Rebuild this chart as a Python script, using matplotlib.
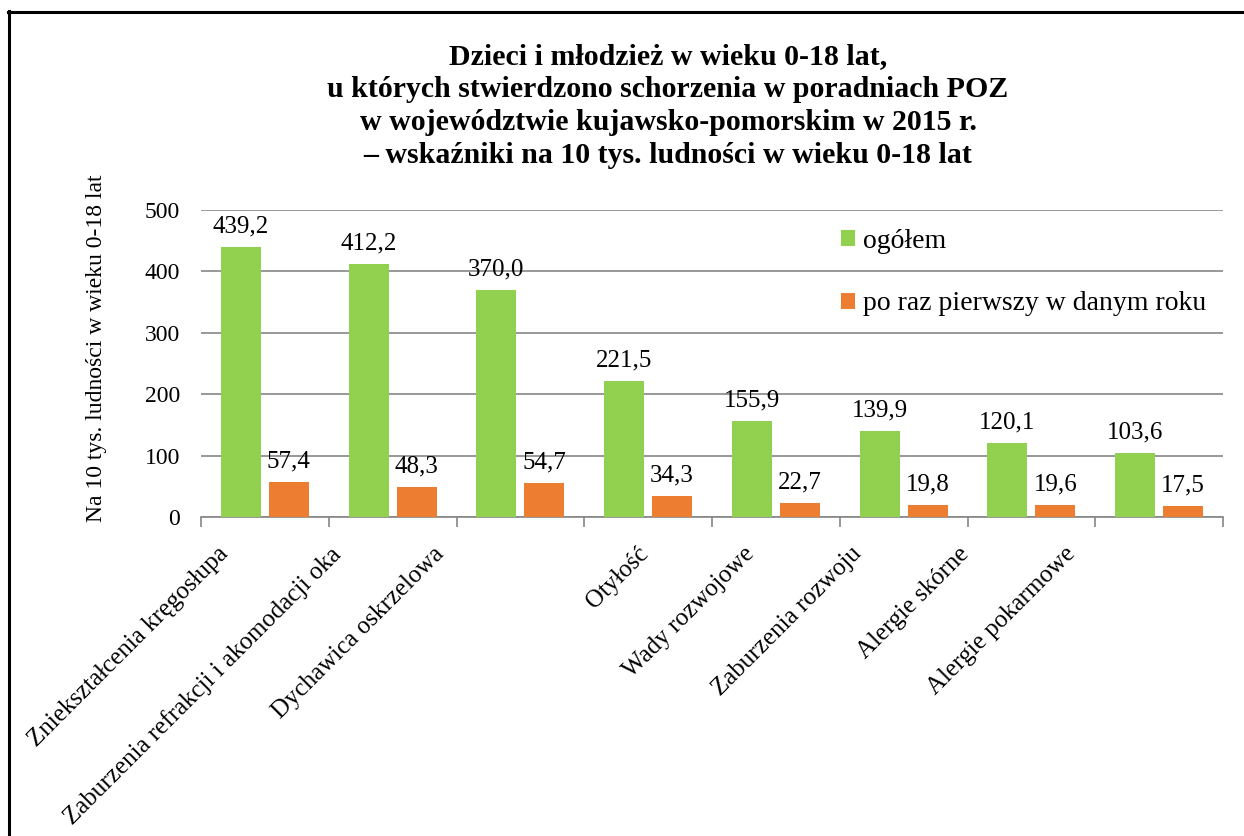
import matplotlib.pyplot as plt
from matplotlib.lines import Line2D
from matplotlib.transforms import ScaledTranslation
import numpy as np

plt.rcParams['font.family'] = ['Liberation Serif', 'DejaVu Serif']

categories = ['Zniekształcenia kręgosłupa', 'Zaburzenia refrakcji i akomodacji oka',
              'Dychawica oskrzelowa', 'Otyłość', 'Wady rozwojowe',
              'Zaburzenia rozwoju', 'Alergie skórne', 'Alergie pokarmowe']
ogolem = [439.2, 412.2, 370.0, 221.5, 155.9, 139.9, 120.1, 103.6]
pierwszy = [57.4, 48.3, 54.7, 34.3, 22.7, 19.8, 19.6, 17.5]
series_names = ['ogółem', 'po raz pierwszy w danym roku']
y_ticks = [0, 100, 200, 300, 400, 500]

green = '#92D050'
orange = '#ED7D31'
grid_col = '#868686'

fig = plt.figure(figsize=(12.44, 8.36), dpi=100)
ax = fig.add_axes([201 / 1244, 1 - 517 / 836, 1022 / 1244, 307 / 836])

x = np.arange(len(categories))
w = 0.313
b1 = ax.bar(x - 0.188, ogolem, w, color=green, label=series_names[0], zorder=3)
b2 = ax.bar(x + 0.188, pierwszy, w, color=orange, label=series_names[1], zorder=3)

def fmt(v):
    return ('%.1f' % v).replace('.', ',')

for bars, vals in ((b1, ogolem), (b2, pierwszy)):
    for r, v in zip(bars, vals):
        ax.annotate(fmt(v), (r.get_x() + r.get_width() / 2, v),
                    xytext=(0, 7), textcoords='offset points',
                    ha='center', va='bottom', fontsize=18, zorder=4)

ax.set_xlim(-0.5, len(categories) - 0.5)
ax.set_ylim(0, 500)
ax.set_yticks(y_ticks)
ax.set_yticklabels([str(t) for t in y_ticks], fontsize=17)
ax.tick_params(axis='y', length=0, pad=15)
ax.yaxis.grid(True, color=grid_col, linewidth=1.2, zorder=0)

# category boundaries as tick marks
ax.set_xticks(np.arange(len(categories) + 1) - 0.5)
ax.set_xticklabels([])
ax.tick_params(axis='x', length=7, width=1.2, color=grid_col, direction='out')

for s in ['top', 'right', 'left']:
    ax.spines[s].set_visible(False)
ax.spines['bottom'].set_color(grid_col)
ax.spines['bottom'].set_linewidth(1.2)

# rotated category labels
shifts = [-48, -63, -88, -11, -33, -53, -73, -95]
for i, name in enumerate(categories):
    off = ScaledTranslation(shifts[i] / 100, -26 / 100, fig.dpi_scale_trans)
    ax.text(i, 0, name, transform=ax.get_xaxis_transform() + off,
            rotation=45, rotation_mode='anchor', ha='right', va='top',
            fontsize=18)

ax.legend(loc='upper left', bbox_to_anchor=(841 / 1244, 1 - 229 / 836),
          bbox_transform=fig.transFigure, frameon=False, fontsize=20,
          handlelength=0.5, handleheight=0.5, handletextpad=0.3,
          labelspacing=1.35, borderpad=0, borderaxespad=0)

fig.text(97 / 1244, 1 - 348 / 836, 'Na 10 tys. ludności w wieku 0-18 lat',
         rotation=90, ha='center', va='center', fontsize=17)

title = ('Dzieci i młodzież w wieku 0-18 lat,\n'
         'u których stwierdzono schorzenia w poradniach POZ\n'
         'w województwie kujawsko-pomorskim w 2015 r.\n'
         '– wskaźniki na 10 tys. ludności w wieku 0-18 lat')
fig.text(668 / 1244, 1 - 106 / 836, title, ha='center', va='center',
         multialignment='center', fontsize=21.5, fontweight='bold',
         linespacing=1.3)

# page frame: only top and left edges are visible
fig.lines.append(Line2D([8 / 1244, 1.01], [1 - 12 / 836, 1 - 12 / 836],
                        transform=fig.transFigure, color='black', linewidth=2.2))
fig.lines.append(Line2D([9 / 1244, 9 / 1244], [-0.01, 1 - 11 / 836],
                        transform=fig.transFigure, color='black', linewidth=2.2))

fig.savefig('out.png', dpi=100)
